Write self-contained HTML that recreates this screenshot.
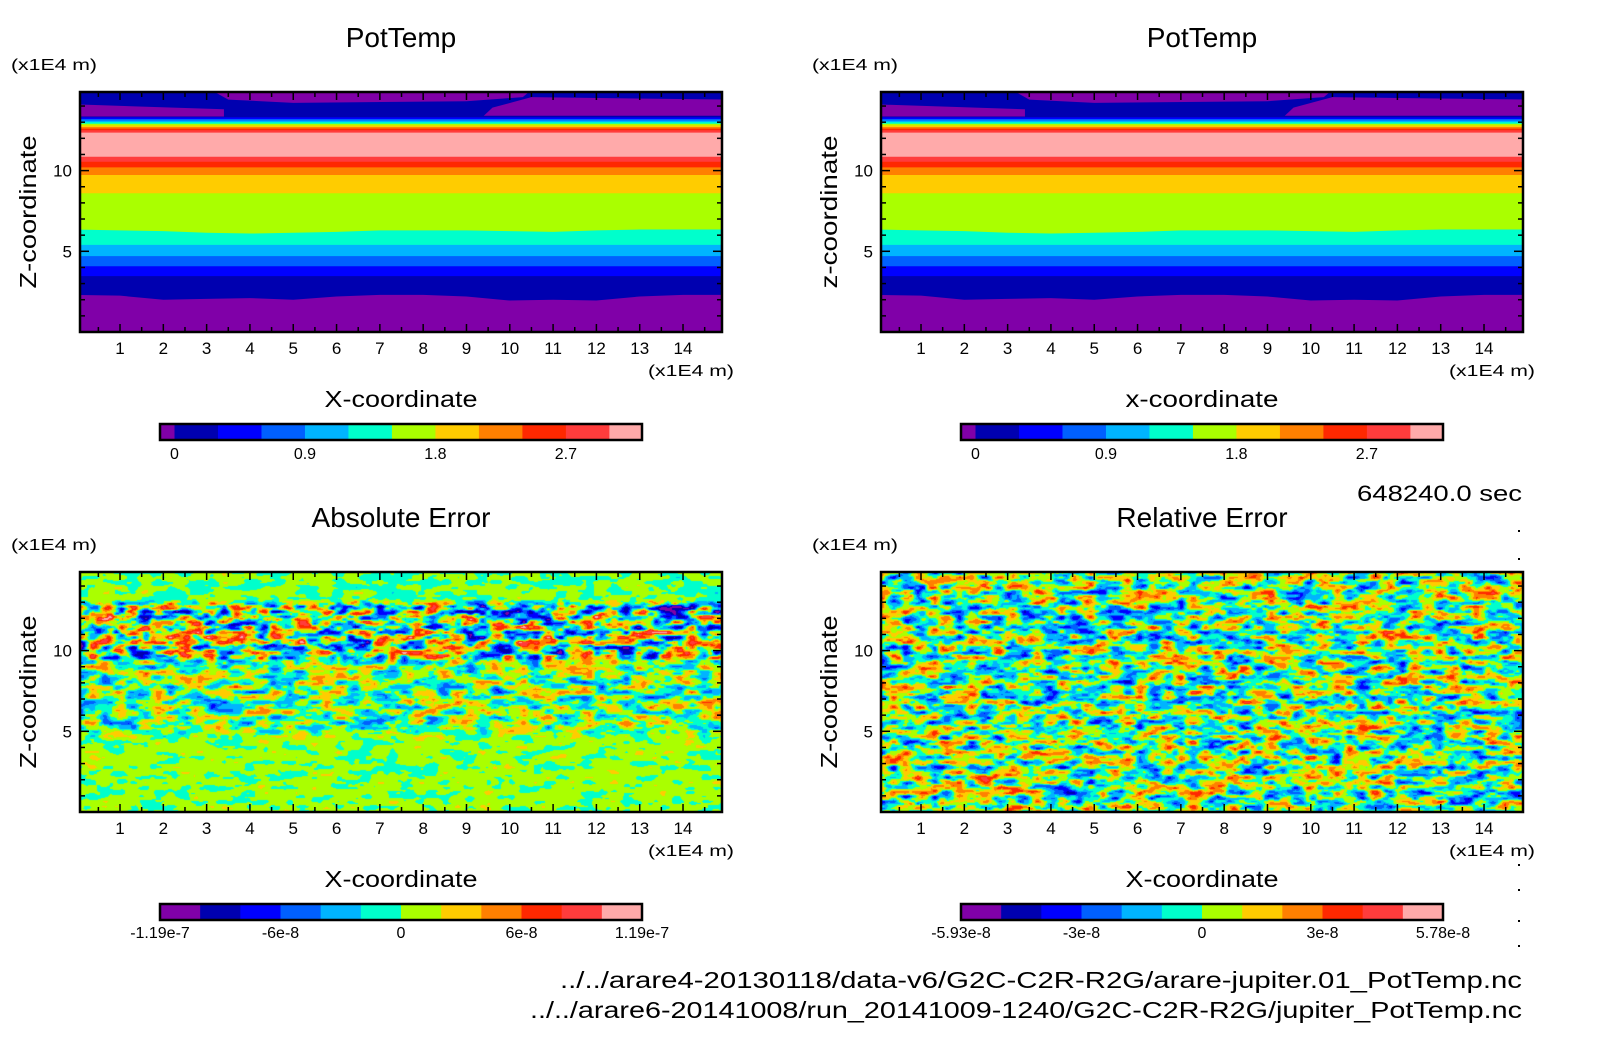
<!DOCTYPE html>
<html><head><meta charset="utf-8"><style>
html,body{margin:0;padding:0;background:#fff;}
#root{position:relative;width:1604px;height:1054px;overflow:hidden;background:#fff;}
canvas{position:absolute;}
svg{position:absolute;left:0;top:0;}
text{font-family:"Liberation Sans",sans-serif;fill:#000;}
</style></head><body>
<div id="root">
<canvas id="cvAbs"></canvas>
<canvas id="cvRel"></canvas>
<svg id="svg" width="1604" height="1054"></svg>
</div>
<script>
// ---- data ----
const palette = ['#8000a8','#0000b0','#0000ff','#0060ff','#00b4ff','#00ffcc','#aaff00','#ffcc00','#ff8000','#ff2800','#ff3c3c','#ffaaaa'];
const potLevels = [-0.1,0,0.3,0.6,0.9,1.2,1.5,1.8,2.1,2.4,2.7,3.0,3.225];
const potTickVals = [0,0.9,1.8,2.7];
const potTickLabels = ['0','0.9','1.8','2.7'];
const absTickLabels = ['-1.19e-7','-6e-8','0','6e-8','1.19e-7'];
const relTickLabels = ['-5.93e-8','-3e-8','0','3e-8','5.78e-8'];
const xTicks = [1,2,3,4,5,6,7,8,9,10,11,12,13,14];
const yTicks = [5,10];
const bandSampleX = [0,1,2,3,4,5,6,7,8,9,10,11,12,13,14,15];
const navyBottom = [2.3,2.25,2.0,2.05,2.1,2.0,2.2,2.3,2.3,2.2,1.95,2.0,1.95,2.2,2.3,2.3];
const greenBottom = [6.35,6.3,6.25,6.15,6.1,6.15,6.2,6.3,6.3,6.3,6.25,6.2,6.3,6.35,6.35,6.35];
const bandColorIdx = [2,3,4,5,6,7,8,9,10,11,10,9,8,7,6,5,4,3,2,1];
const bandZ =        [3.46,4.07,4.7,5.4,null,8.6,9.73,10.2,10.55,10.86,12.35,12.5,12.6,12.7,12.8,12.9,13.0,13.1,13.2,13.3];
const wedgeLeftX = [0,3.4,3.4,0];
const wedgeLeftZ = [13.35,13.35,13.8,14.1];
const wedgeRightX = [9.4,15,15,10.5,9.6];
const wedgeRightZ = [13.4,13.4,14.4,14.55,13.9];
const wedgeTopX = [3.1,10.5,10.3,9.0,5.0,3.5];
const wedgeTopZ = [15,15,14.55,14.3,14.2,14.4];
const absAmpZ = [0,4.5,5.5,9.3,9.8,12.8,13.2,15];
const absAmpV = [0.75,0.75,2.3,2.3,4.2,4.2,0.8,0.8];
const absOffsetV = [0.3,0.3,0,0,0,0,0.1,0.1];
const relAmp = 3.0;

// ---- layout ----
const panels = [
 {x0:80,x1:722,y0:92,y1:332,title:'PotTemp',xt:'X-coordinate',yt:'Z-coordinate',bar:'pot'},
 {x0:881,x1:1523,y0:92,y1:332,title:'PotTemp',xt:'x-coordinate',yt:'z-coordinate',bar:'pot'},
 {x0:80,x1:722,y0:572,y1:812,title:'Absolute Error',xt:'X-coordinate',yt:'Z-coordinate',bar:'abs'},
 {x0:881,x1:1523,y0:572,y1:812,title:'Relative Error',xt:'X-coordinate',yt:'Z-coordinate',bar:'rel'}
];
const XD=[0.076,14.9], ZD=[0,14.87];
const svg=document.getElementById('svg');
const NS='http://www.w3.org/2000/svg';
function mk(tag,attrs,parent){const e=document.createElementNS(NS,tag);for(const k in attrs)e.setAttribute(k,attrs[k]);(parent||svg).appendChild(e);return e;}
function sx(p,x){return p.x0+(x-XD[0])/(XD[1]-XD[0])*(p.x1-p.x0);}
function sz(p,z){return p.y1-(z-ZD[0])/(ZD[1]-ZD[0])*(p.y1-p.y0);}
function txt(s,x,y,size,anchor,name,extra){const t=mk('text',Object.assign({x:x,y:y,'font-size':size,'text-anchor':anchor||'start'},extra||{}));t.textContent=s;return t;}

function drawBands(p,gname){
  const g=mk('g',{});
  
  
  const cid='clip'+gname;
  const cp=mk('clipPath',{id:cid},g);mk('rect',{x:p.x0,y:p.y0,width:p.x1-p.x0,height:p.y1-p.y0},cp);
  const gg=mk('g',{'clip-path':'url(#'+cid+')'},g);
  function fillAbove(zs,color,name){
    let pts=[];
    bandSampleX.forEach((x,i)=>{const z=Array.isArray(zs)?zs[i]:zs;pts.push(sx(p,x)+','+sz(p,z));});
    pts.push(sx(p,15)+','+(p.y0-5));pts.push(sx(p,0)+','+(p.y0-5));
    const e=mk('polygon',{points:pts.join(' '),fill:color},gg);
    
    
  }
  fillAbove(0,palette[0],'band-purple');
  fillAbove(navyBottom,palette[1],'band-navy');
  bandColorIdx.forEach((ci,i)=>{
    const z = bandZ[i]===null ? greenBottom : bandZ[i];
    fillAbove(z,palette[ci],'band-'+i);
  });
  function poly(xs,zs,color,name){
    const pts=xs.map((x,i)=>sx(p,x)+','+sz(p,zs[i])).join(' ');
    const e=mk('polygon',{points:pts,fill:color},gg);
    
    
  }
  poly(wedgeLeftX,wedgeLeftZ,palette[0],'wedge-left');
  poly(wedgeRightX,wedgeRightZ,palette[0],'wedge-right');
  poly(wedgeTopX,wedgeTopZ,palette[0],'wedge-top');
}
drawBands(panels[0],'pottemp-field-left');
drawBands(panels[1],'pottemp-field-right');

function hash(i,j,s){let h=(i*374761393+j*668265263+s*982451653)|0;h=(h^(h>>>13))*1274126177|0;h=h^(h>>>16);return (h>>>0)/4294967296;}
function vnoise(x,y,s){const i=Math.floor(x),j=Math.floor(y);const fx=x-i,fy=y-j;const ux=fx*fx*(3-2*fx),uy=fy*fy*(3-2*fy);
 const a=hash(i,j,s),b=hash(i+1,j,s),c=hash(i,j+1,s),d=hash(i+1,j+1,s);return (a+(b-a)*ux)+((c+(d-c)*ux)-(a+(b-a)*ux))*uy;}
function fbm(x,y,s){return (vnoise(x/13,y/5,s)*0.65+vnoise(x/6,y/2.6,s+7)*0.35)-0.5;}
function interp(xs,vs,x){if(x<=xs[0])return vs[0];for(let i=1;i<xs.length;i++){if(x<=xs[i]){const t=(x-xs[i-1])/(xs[i]-xs[i-1]);return vs[i-1]+(vs[i]-vs[i-1])*t;}}return vs[vs.length-1];}
const rgb=palette.map(c=>[parseInt(c.substr(1,2),16),parseInt(c.substr(3,2),16),parseInt(c.substr(5,2),16)]);
function drawField(cv,p,seed,ampFn,offFn){
  const W=p.x1-p.x0,H=p.y1-p.y0;cv.width=W;cv.height=H;cv.style.left=p.x0+'px';cv.style.top=p.y0+'px';
  const ctx=cv.getContext('2d');const im=ctx.createImageData(W,H);
  for(let y=0;y<H;y++){const z=ZD[1]-(y/H)*(ZD[1]-ZD[0]);const a=ampFn(z),o=offFn(z);
    for(let x=0;x<W;x++){const v=fbm(x,y,seed)*2*a+o;let k=Math.floor(6+v);if(k<0)k=0;if(k>11)k=11;
      const q=(y*W+x)*4;im.data[q]=rgb[k][0];im.data[q+1]=rgb[k][1];im.data[q+2]=rgb[k][2];im.data[q+3]=255;}}
  ctx.putImageData(im,0,0);
}
drawField(document.getElementById('cvAbs'),panels[2],11,z=>interp(absAmpZ,absAmpV,z)*1.6,z=>interp(absAmpZ,absOffsetV,z));
drawField(document.getElementById('cvRel'),panels[3],23,z=>relAmp*1.6,z=>0);

panels.forEach((p,pi)=>{
  const g=mk('g',{});
  
  
  mk('rect',{x:p.x0,y:p.y0,width:p.x1-p.x0,height:p.y1-p.y0,fill:'none',stroke:'#000','stroke-width':2.5},g);
  for(let h=0.5;h<15;h+=0.5){const x=sx(p,h);if(x<=p.x0+1||x>=p.x1-1)continue;const L=(Math.abs(h-Math.round(h))<0.01)?8:5;
    mk('line',{x1:x,x2:x,y1:p.y1,y2:p.y1-L,stroke:'#000','stroke-width':1.5},g);
    mk('line',{x1:x,x2:x,y1:p.y0,y2:p.y0+L,stroke:'#000','stroke-width':1.5},g);}
  for(let zz=1;zz<15;zz++){const y=sz(p,zz);const L=(zz%5===0)?9:5;
    mk('line',{x1:p.x0,x2:p.x0+L,y1:y,y2:y,stroke:'#000','stroke-width':1.5},g);
    mk('line',{x1:p.x1,x2:p.x1-L,y1:y,y2:y,stroke:'#000','stroke-width':1.5},g);}
  xTicks.forEach(t=>txt(String(t),sx(p,t),p.y1+22,17,'middle','x-tick-label'));
  yTicks.forEach(t=>txt(String(t),p.x0-8,sz(p,t)+6,17,'end','y-tick-label'));
  const cx=(p.x0+p.x1)/2;
  txt(p.title,cx,p.y0-45,28,'middle','panel-title');
  txt('(x1E4 m)',p.x0-69,p.y0-22,16,'start','y-unit-label',{textLength:86,lengthAdjust:'spacingAndGlyphs'});
  txt('(x1E4 m)',p.x1+12,p.y1+44,16,'end','x-unit-label',{textLength:86,lengthAdjust:'spacingAndGlyphs'});
  txt(p.xt,cx,p.y1+75,23,'middle','x-axis-title',{textLength:153,lengthAdjust:'spacingAndGlyphs'});
  const yc=(p.y0+p.y1)/2;
  txt(p.yt,0,0,23,'middle','y-axis-title',{transform:'translate('+(p.x0-44)+','+yc+') rotate(-90)',textLength:153,lengthAdjust:'spacingAndGlyphs'});
  const bx0=p.x0+80,bx1=p.x0+562,by0=p.y1+92,by1=p.y1+108;
  const cb=mk('g',{},g);
  
  
  let bounds;
  if(p.bar==='pot') bounds=potLevels; else bounds=palette.map((c,i)=>i).concat([12]);
  const b0=bounds[0],b1=bounds[bounds.length-1];
  const bsx=v=>bx0+(v-b0)/(b1-b0)*(bx1-bx0);
  for(let i=0;i<12;i++){const r=mk('rect',{x:bsx(bounds[i]),y:by0,width:bsx(bounds[i+1])-bsx(bounds[i])+0.5,height:by1-by0,fill:palette[i]},cb);
    }
  mk('rect',{x:bx0,y:by0,width:bx1-bx0,height:by1-by0,fill:'none',stroke:'#000','stroke-width':2.5},cb);
  if(p.bar==='pot'){potTickVals.forEach((v,i)=>txt(potTickLabels[i],bsx(v),p.y1+127,16,'middle','colorbar-tick-label'));}
  else{const labs=p.bar==='abs'?absTickLabels:relTickLabels;labs.forEach((s,i)=>txt(s,bx0+(bx1-bx0)*i/4,p.y1+126,16,'middle','colorbar-tick-label'));}
});
txt('648240.0 sec',1522,501,22,'end','time-label',{textLength:165,lengthAdjust:'spacingAndGlyphs'});
txt('../../arare4-20130118/data-v6/G2C-C2R-R2G/arare-jupiter.01_PotTemp.nc',1522,988,23,'end','file-path-1',{textLength:962,lengthAdjust:'spacingAndGlyphs'});
txt('../../arare6-20141008/run_20141009-1240/G2C-C2R-R2G/jupiter_PotTemp.nc',1522,1018,23,'end','file-path-2',{textLength:992,lengthAdjust:'spacingAndGlyphs'});
[530,558,864,889,920,945].forEach(y=>{const d=mk('rect',{x:1518,y:y,width:2,height:2,fill:'#000'});});
</script>
</body></html>
